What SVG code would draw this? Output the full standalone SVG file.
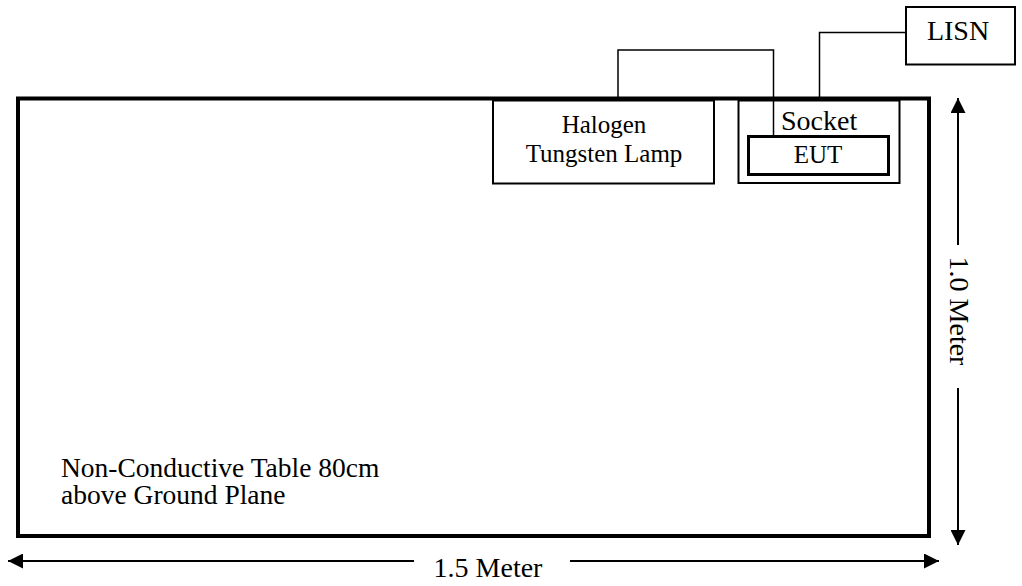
<svg xmlns="http://www.w3.org/2000/svg" width="1022" height="586" viewBox="0 0 1022 586">
<style>
text{font-family:"Liberation Serif","Times New Roman",serif;fill:#000}
.box{fill:#fff;stroke:#000;stroke-width:2}
.wire{fill:none;stroke:#000;stroke-width:1.5}
.dim{fill:none;stroke:#000;stroke-width:2}
</style>
<defs>
<marker id="ah" markerWidth="15" markerHeight="15" refX="15" refY="7.5" orient="auto-start-reverse" markerUnits="userSpaceOnUse">
<path d="M0,0 L15,7.5 L0,15 Z" fill="#000"/>
</marker>
</defs>
<rect width="1022" height="586" fill="#fff"/>
<g id="table">
<rect x="18" y="98.5" width="911" height="437.5" fill="none" stroke="#000" stroke-width="4"/>
<text x="61" y="477" font-size="27.5">Non-Conductive Table 80cm</text>
<text x="61" y="504" font-size="27.5">above Ground Plane</text>
</g>
<g id="lamp">
<rect class="box" x="493" y="100.5" width="221" height="83"/>
<text x="604" y="133" font-size="25" text-anchor="middle">Halogen</text>
<text x="604" y="162" font-size="25" text-anchor="middle">Tungsten Lamp</text>
</g>
<g id="socket">
<rect class="box" x="738.5" y="100.5" width="161" height="82.5"/>
<text x="781" y="130" font-size="28">Socket</text>
</g>
<g id="eut">
<rect x="748.5" y="136.5" width="140" height="38" fill="#fff" stroke="#000" stroke-width="3"/>
<text x="818" y="163" font-size="25" text-anchor="middle">EUT</text>
</g>
<g id="lisn">
<rect class="box" x="906" y="7" width="109" height="57.5"/>
<text x="958" y="40" font-size="28" text-anchor="middle">LISN</text>
</g>
<g id="connectors">
<polyline class="wire" points="618,98 618,50 773.5,50 773.5,136"/>
<polyline class="wire" points="819.5,98 819.5,32.5 906,32.5"/>
</g>
<g id="dimensions">
<line class="dim" x1="958" y1="245" x2="958" y2="98" marker-end="url(#ah)"/>
<line class="dim" x1="958" y1="388" x2="958" y2="545" marker-end="url(#ah)"/>
<text transform="translate(950,311) rotate(90)" font-size="28" text-anchor="middle">1.0 Meter</text>
<line class="dim" x1="414" y1="561" x2="8" y2="561" marker-end="url(#ah)"/>
<line class="dim" x1="570" y1="561" x2="939" y2="561" marker-end="url(#ah)"/>
<text x="488" y="577" font-size="28" text-anchor="middle">1.5 Meter</text>
</g>
</svg>
